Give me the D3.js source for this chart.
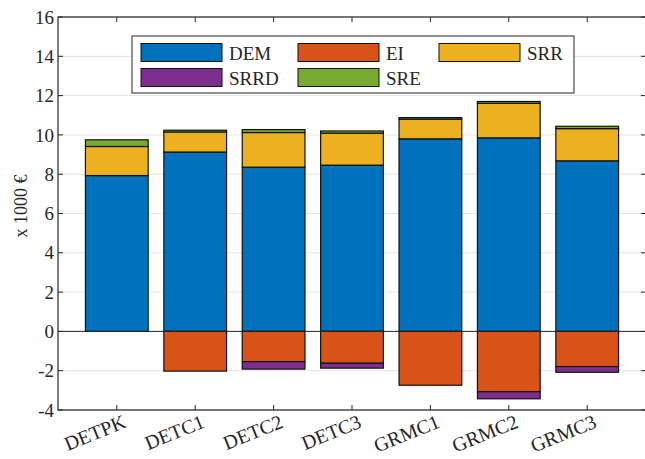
<!DOCTYPE html>
<html><head><meta charset="utf-8">
<script src="https://cdn.jsdelivr.net/npm/d3@7"></script>
<style>body{margin:0;background:#fff}svg{display:block}</style>
</head><body><svg id="c" width="645" height="459"></svg>
<script>
const categories = ["DETPK","DETC1","DETC2","DETC3","GRMC1","GRMC2","GRMC3"];
const seriesNames = ["DEM","EI","SRR","SRRD","SRE"];
const DEM  = [7.93, 9.13, 8.36, 8.46, 9.80, 9.85, 8.68];
const EI   = [0, -2.02, -1.54, -1.62, -2.74, -3.07, -1.79];
const SRR  = [1.48, 1.02, 1.76, 1.63, 1.00, 1.76, 1.64];
const SRRD = [0, 0, -0.38, -0.25, 0, -0.36, -0.29];
const SRE  = [0.34, 0.09, 0.15, 0.11, 0.08, 0.09, 0.12];
const yTicks = [-4,-2,0,2,4,6,8,10,12,14,16];
const colors = ["#0072BD","#D95319","#EDB120","#7E2F8E","#77AC30"];
const values = [DEM, EI, SRR, SRRD, SRE];
const FONT = "'Liberation Serif', 'Times New Roman', Tinos, 'DejaVu Serif', serif";

const L=58, R=646, T=17, B=410;
const svg = d3.select("#c").attr("font-family", FONT);
const x = d3.scaleBand().domain(categories).range([L,R]).paddingInner(0.2).paddingOuter(0.35);
const y = d3.scaleLinear().domain([-4,16]).range([B,T]);

// grid
svg.append("g").selectAll("line").data(yTicks).join("line")
  .attr("x1",L).attr("x2",R).attr("y1",d=>y(d)).attr("y2",d=>y(d))
  .attr("stroke","#e3e3e3").attr("stroke-width",1);

// stacked bars
const rects = [];
categories.forEach((c,i)=>{
  let pos=0, neg=0;
  values.forEach((arr,s)=>{
    const v = arr[i];
    if (v===0) return;
    let y0,y1;
    if (v>0){ y0=pos; y1=pos+v; pos=y1; } else { y0=neg; y1=neg+v; neg=y1; }
    rects.push({c, s, y0, y1});
  });
});
svg.append("g").selectAll("rect").data(rects).join("rect")
  .attr("x",d=>x(d.c)).attr("width",x.bandwidth())
  .attr("y",d=>y(Math.max(d.y0,d.y1))).attr("height",d=>Math.abs(y(d.y0)-y(d.y1)))
  .attr("fill",d=>colors[d.s]).attr("stroke","#111").attr("stroke-width",1.2);

// zero baseline
svg.append("line").attr("x1",L).attr("x2",R).attr("y1",y(0)).attr("y2",y(0))
  .attr("stroke","#262626").attr("stroke-width",1);

// axes box
const ax = svg.append("g");
ax.append("rect").attr("x",L).attr("y",T).attr("width",R-L).attr("height",B-T)
  .attr("fill","none").attr("stroke","#262626").attr("stroke-width",1.2);
ax.selectAll(".yt").data(yTicks).join("g").each(function(d){
  const g=d3.select(this);
  g.append("line").attr("x1",L).attr("x2",L+5).attr("y1",y(d)).attr("y2",y(d)).attr("stroke","#262626");
  g.append("line").attr("x1",R-5).attr("x2",R).attr("y1",y(d)).attr("y2",y(d)).attr("stroke","#262626");
  g.append("text").attr("x",L-4).attr("y",y(d)).attr("dy","0.35em").attr("text-anchor","end")
   .attr("font-family",FONT).attr("fill","#262626").attr("font-size","19px").text(d);
});
ax.selectAll(".xt").data(categories).join("g").each(function(d){
  const g=d3.select(this), cx=x(d)+x.bandwidth()/2;
  g.append("line").attr("x1",cx).attr("x2",cx).attr("y1",B).attr("y2",B-5).attr("stroke","#262626");
  g.append("line").attr("x1",cx).attr("x2",cx).attr("y1",T).attr("y2",T+5).attr("stroke","#262626");
  g.append("text").attr("transform",`translate(${cx+5},${B+3}) rotate(-22)`)
   .attr("text-anchor","end").attr("dy","0.75em").attr("font-family",FONT).attr("fill","#262626")
   .attr("font-size","20px").text(d);
});
svg.append("text").attr("transform",`translate(27,206) rotate(-90)`).attr("text-anchor","middle")
  .attr("font-family",FONT).attr("fill","#262626").attr("font-size","18px").text("x 1000 €");

// legend
const lg = svg.append("g");
lg.append("rect").attr("x",132).attr("y",36).attr("width",442).attr("height",57)
  .attr("fill","#fff").attr("stroke","#262626").attr("stroke-width",1);
const colX=[141,298,439], rowY=[43.5,68.5];
seriesNames.forEach((n,i)=>{
  const cx=colX[i%3], ry=rowY[Math.floor(i/3)];
  lg.append("rect").attr("x",cx).attr("y",ry).attr("width",81).attr("height",18)
    .attr("fill",colors[i]).attr("stroke","#111").attr("stroke-width",1);
  lg.append("text").attr("x",cx+88).attr("y",ry+16).attr("font-family",FONT).attr("fill","#262626")
    .attr("font-size","19px").text(n);
});
</script></body></html>
